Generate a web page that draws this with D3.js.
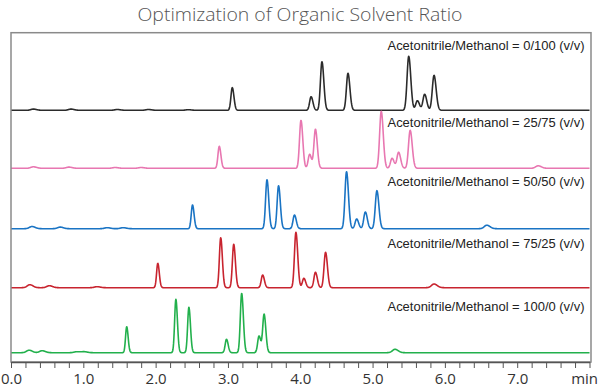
<!DOCTYPE html>
<html><head><meta charset="utf-8">
<script src="https://cdn.jsdelivr.net/npm/d3@7"></script>
<style>body{margin:0;background:#fff}svg{display:block}</style>
</head><body>
<svg id="c" width="600" height="386"></svg>
<script>
const title = "Optimization of Organic Solvent Ratio";
const seriesLabels = [
  "Acetonitrile/Methanol = 0/100 (v/v)",
  "Acetonitrile/Methanol = 25/75 (v/v)",
  "Acetonitrile/Methanol = 50/50 (v/v)",
  "Acetonitrile/Methanol = 75/25 (v/v)",
  "Acetonitrile/Methanol = 100/0 (v/v)"
];
const seriesColors = ["#2b2b2b", "#e877b1", "#1a74c4", "#c8242f", "#22b04c"];
// stacking offset of each trace (signal units)
const seriesOffsets = [242.4, 184.4, 124, 65, 0];
// peak retention times (min) and heights (signal units)
const rt0 = [0.31, 0.83, 1.47, 1.9, 2.45, 3.06, 4.15, 4.30, 4.66, 5.50, 5.62, 5.72, 5.85];
const h0  = [1.2, 1.2, 0.8, 0.8, 0.6, 22.6, 13.6, 48.6, 37, 54, 9.6, 16, 35];
const rt1 = [0.31, 0.80, 1.44, 1.8, 2.88, 4.01, 4.13, 4.21, 5.12, 5.27, 5.36, 5.52, 7.29];
const h1  = [1.5, 1.2, 0.8, 0.8, 22, 48, 14, 39, 57, 10, 16, 38, 2.5];
const rt2 = [0.29, 0.68, 1.33, 1.55, 2.51, 3.54, 3.70, 3.92, 4.64, 4.78, 4.90, 5.06, 6.58];
const h2  = [2.2, 1.6, 1, 1, 23.7, 49, 43, 13.7, 57, 9.7, 16.7, 38, 3.5];
const rt3 = [0.26, 0.53, 1.19, 2.03, 2.90, 3.08, 3.48, 3.94, 4.05, 4.21, 4.35, 5.85];
const h3  = [3, 2, 1, 24.4, 50, 43.4, 12.7, 55.4, 9.4, 15.4, 35.4, 3.7];
const rt4 = [0.25, 0.43, 0.91, 1.01, 1.60, 2.28, 2.46, 2.98, 3.19, 3.43, 3.50, 5.31];
const h4  = [2.5, 2, 1, 1, 26, 53.4, 45.4, 13.4, 59.4, 16.7, 38.4, 3.4];
const peakTimes = [rt0, rt1, rt2, rt3, rt4];
const peakHeights = [h0, h1, h2, h3, h4];
const tickValues = d3.range(0, 41).map(i => i / 5);
const tickLabels = ["0.0","1.0","2.0","3.0","4.0","5.0","6.0","7.0"];
const unitLabel = "min";

const svg = d3.select("#c");
const x = d3.scaleLinear().domain([0, 8]).range([11, 589.5]);
const y = d3.scaleLinear().domain([-9.3, 320]).range([362, 32.7]);

svg.append("text").attr("x", 300).attr("y", 21).attr("text-anchor", "middle")
  .attr("font-family", "Open Sans, sans-serif").attr("font-weight", 300)
  .attr("font-size", 18).attr("fill", "#555")
  .attr("textLength", 325).attr("lengthAdjust", "spacingAndGlyphs").text(title);

// traces
const grid = d3.range(0, 8.0001, 0.004);
function signal(t, rts, hs) {
  let s = 0;
  for (let i = 0; i < rts.length; i++) {
    const sg = hs[i] < 5 ? 0.035 : 0.013 + 0.0018 * rts[i];
    const d = t - rts[i];
    const sgx = d > 0 ? sg * 1.25 : sg;
    s += hs[i] * Math.exp(-0.5 * (d / sgx) ** 2);
  }
  return s;
}
const line = d3.line().x(d => x(d[0])).y(d => y(d[1]));
peakTimes.forEach((rts, k) => {
  const pts = grid.map(t => [t, seriesOffsets[k] + signal(t, rts, peakHeights[k])]);
  svg.append("path").attr("d", line(pts)).attr("fill", "none")
    .attr("stroke", seriesColors[k]).attr("stroke-width", 1.6).attr("stroke-linejoin", "round");
});

// labels
const labelGap = [17.3, 17, 18.4, 19.6, 24];
seriesLabels.forEach((lab, k) => {
  const top = k === 0 ? y.range()[1] : y(seriesOffsets[k - 1]);
  svg.append("text").attr("x", 584.5).attr("y", top + labelGap[k] - 0.3)
    .attr("text-anchor", "end").attr("font-family", "Liberation Sans Narrow, Arial Narrow, Liberation Sans, sans-serif")
    .attr("font-size", 12.5).attr("fill", "#222")
    .attr("textLength", 197).attr("lengthAdjust", "spacingAndGlyphs").text(lab);
});

// frame
svg.append("rect").attr("x", x(0)).attr("y", y.range()[1]).attr("width", x(8) - x(0) + 1.5)
  .attr("height", y.range()[0] - y.range()[1]).attr("fill", "none")
  .attr("stroke", "#8a8a8a").attr("stroke-width", 1.5);

// axis
const ax = svg.append("g").attr("transform", `translate(0,${y.range()[0]})`)
  .call(d3.axisBottom(x).tickValues(tickValues).tickSize(6).tickSizeOuter(0)
    .tickFormat(d => Math.abs(d - Math.round(d)) < 1e-9 && d < 7.5 ? tickLabels[Math.round(d)] : ""));
ax.select(".domain").attr("stroke", "#555").attr("stroke-width", 1.5);
ax.selectAll(".tick line").attr("stroke", "#555").attr("stroke-width", 1);
ax.selectAll(".tick text").attr("font-family", "Open Sans, sans-serif").attr("font-size", 15)
  .attr("fill", "#333").attr("dy", "0").attr("y", 21.5);
svg.append("text").attr("x", 598).attr("y", 383.5).attr("text-anchor", "end")
  .attr("font-family", "Open Sans, sans-serif").attr("font-size", 15).attr("fill", "#333").text(unitLabel);
</script>
</body></html>
